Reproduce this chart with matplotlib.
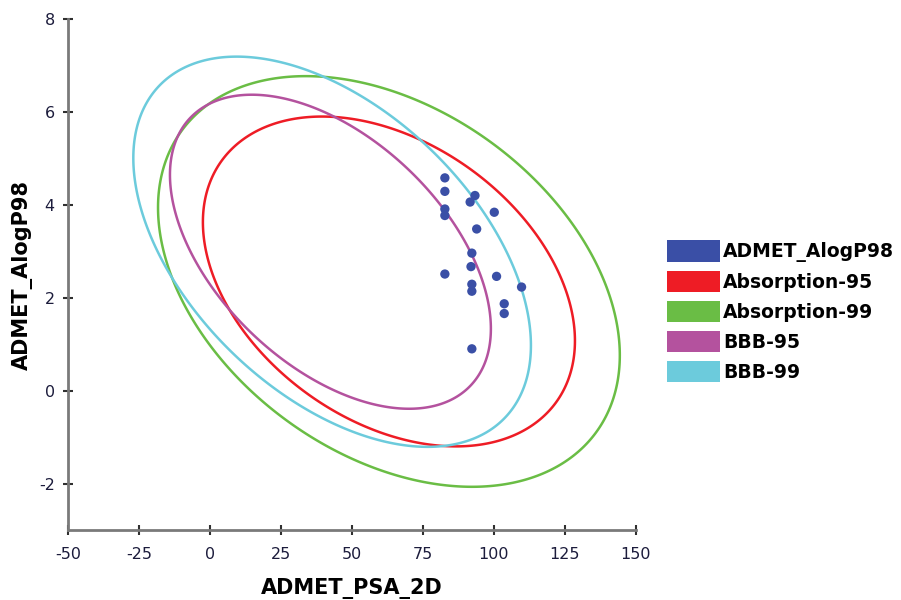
import numpy as np
import matplotlib
matplotlib.use('Agg')
import matplotlib.pyplot as plt
from matplotlib.patches import Patch, Polygon

plt.rcParams['axes.unicode_minus'] = False

# compounds (PSA_2D vs AlogP98)
psa_2d = [82.7, 82.7, 93.3, 91.6, 82.7, 82.7, 100.1, 93.9, 92.2,
          91.9, 82.7, 100.9, 92.2, 92.2, 109.7, 103.6, 103.6, 92.2]
alogp98 = [4.58, 4.29, 4.20, 4.06, 3.91, 3.77, 3.84, 3.48, 2.96,
           2.67, 2.51, 2.46, 2.29, 2.14, 2.23, 1.87, 1.66, 0.90]

# confidence ellipses: centre, half-ranges and correlation
ellipse_names = ['Absorption-95', 'Absorption-99', 'BBB-95', 'BBB-99']
ellipse_cx = [63.0, 63.0, 42.4, 43.0]
ellipse_cy = [2.35, 2.35, 2.99, 2.99]
ellipse_rx = [65.5, 81.3, 56.5, 70.0]
ellipse_ry = [3.55, 4.42, 3.38, 4.20]
ellipse_rho = [-0.36, -0.36, -0.49, -0.48]

point_color = '#3a4fa6'
ellipse_colors = ['#ee1c25', '#6abd45', '#b4529e', '#6ccbdc']

fig = plt.figure(figsize=(9.01, 6.0), dpi=100)
ax = fig.add_axes([68/901, 1 - 530/600, (636 - 68)/901, (530 - 19)/600])

t = np.linspace(0, 2*np.pi, 500, endpoint=False)
for i in range(len(ellipse_names)):
    d = np.arccos(ellipse_rho[i])
    ex = ellipse_cx[i] + ellipse_rx[i]*np.cos(t)
    ey = ellipse_cy[i] + ellipse_ry[i]*np.cos(t - d)
    ax.add_patch(Polygon(np.column_stack([ex, ey]), closed=True, fill=False,
                         edgecolor=ellipse_colors[i], lw=1.8, zorder=2))

ax.scatter(psa_2d, alogp98, s=45, color=point_color, edgecolors='none', zorder=3)

ax.set_xlim(-50, 150)
ax.set_ylim(-3, 8)
ax.set_xticks(np.arange(-50, 151, 25))
ax.set_yticks(np.arange(-2, 9, 2))

for s in ['top', 'right']:
    ax.spines[s].set_visible(False)
for s in ['left', 'bottom']:
    ax.spines[s].set_color('#7a7a7a')
    ax.spines[s].set_linewidth(2.0)

ax.tick_params(axis='both', direction='inout', length=7, width=1.5,
               color='#303030', labelsize=11.5, labelcolor='#1c1c3c')
ax.tick_params(axis='x', pad=9)
ax.tick_params(axis='y', pad=6)

ax.set_xlabel('ADMET_PSA_2D', fontsize=15, fontweight='bold', labelpad=11)
ax.set_ylabel('ADMET_AlogP98', fontsize=15, fontweight='bold', labelpad=4)

handles = [Patch(facecolor=point_color, edgecolor='none')]
handles += [Patch(facecolor=c, edgecolor='none') for c in ellipse_colors]
labels = ['ADMET_AlogP98'] + ellipse_names
leg = fig.legend(handles, labels, loc='upper left',
                 bbox_to_anchor=(667/901, 1 - 240/600),
                 bbox_transform=fig.transFigure, frameon=False,
                 borderpad=0, borderaxespad=0,
                 handlelength=2.8, handleheight=1.4,
                 handletextpad=0.2, labelspacing=0.45,
                 prop={'size': 13.5, 'weight': 'bold'})

fig.savefig('out.png', dpi=100)
